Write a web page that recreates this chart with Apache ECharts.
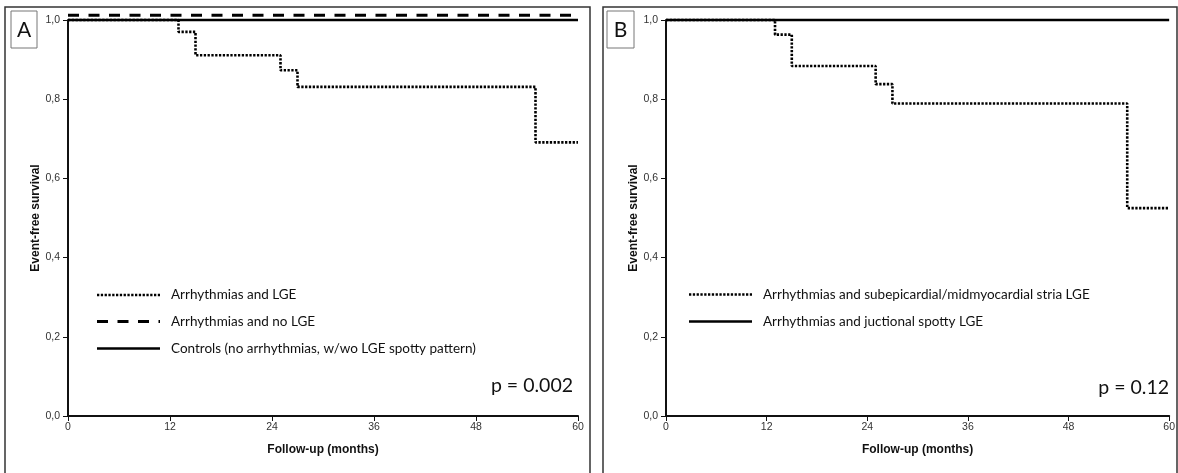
<!DOCTYPE html>
<html><head><meta charset="utf-8">
<script src="https://cdn.jsdelivr.net/npm/echarts@6/dist/echarts.min.js"></script>
<style>html,body{margin:0;padding:0;background:#fff}#c{width:1178px;height:473px}</style>
</head><body><div id="c"></div>
<script>
// ---- data ----
const xTicks = [0, 12, 24, 36, 48, 60];
const yTickLabels = ['0,0', '0,2', '0,4', '0,6', '0,8', '1,0'];

// Panel A
const namesA = ['Arrhythmias and LGE', 'Arrhythmias and no LGE', 'Controls (no arrhythmias, w/wo LGE spotty pattern)'];
const timesA_lge = [0, 13, 15, 25, 27, 55, 60];
const survA_lge = [1.0, 0.970, 0.911, 0.873, 0.831, 0.691, 0.691];
const timesA_noLge = [0, 60];
const survA_noLge = [1.012, 1.012];
const timesA_ctrl = [0, 60];
const survA_ctrl = [1.0, 1.0];
const pA = 'p = 0.002';

// Panel B
const namesB = ['Arrhythmias and subepicardial/midmyocardial stria LGE', 'Arrhythmias and juctional spotty LGE'];
const timesB_stria = [0, 13, 15, 25, 27, 55, 60];
const survB_stria = [1.0, 0.963, 0.884, 0.838, 0.789, 0.525, 0.525];
const timesB_spot = [0, 60];
const survB_spot = [1.0, 1.0];
const pB = 'p = 0.12';

const yName = 'Event-free survival';
const xName = 'Follow-up (months)';

// ---- helpers ----
const zip = (t, s) => t.map((v, i) => [v, s[i]]);
const DOT = { color: '#000', width: 2.6, type: [2.3, 1.5] };
const DASH = { color: '#000', width: 3, type: [11, 9.5] };
const SOLID = { color: '#000', width: 2.6, type: 'solid' };

function xAxis(gi) {
  return {
    gridIndex: gi, type: 'value', min: 0, max: 60, interval: 12,
    name: xName, nameLocation: 'middle', nameGap: 28,
    nameTextStyle: { fontFamily: 'Liberation Sans', fontWeight: 'bold', fontSize: 12, color: '#111' },
    axisLine: { lineStyle: { color: '#111', width: 2 } },
    axisTick: { length: 5, lineStyle: { color: '#111', width: 1 } },
    axisLabel: { fontFamily: 'Liberation Sans', fontSize: 10.5, color: '#333', margin: 6,
      formatter: v => (xTicks.indexOf(v) >= 0 ? String(v) : '') },
    splitLine: { show: false }
  };
}
function yAxis(gi) {
  return {
    gridIndex: gi, type: 'value', min: 0, max: 1, interval: 0.2,
    name: yName, nameLocation: 'middle', nameGap: 25, nameRotate: 90,
    nameTextStyle: { fontFamily: 'Liberation Sans', fontWeight: 'bold', fontSize: 12, color: '#111' },
    axisLine: { show: true, lineStyle: { color: '#111', width: 2 } },
    axisTick: { show: true, length: 5, lineStyle: { color: '#111', width: 1 } },
    axisLabel: { fontFamily: 'Liberation Sans', fontSize: 10.5, color: '#333', margin: 8,
      formatter: v => yTickLabels[Math.round(v / 0.2)] },
    splitLine: { show: false }
  };
}
function line(name, gi, data, style, z) {
  return { name, type: 'line', xAxisIndex: gi, yAxisIndex: gi, data, step: 'end',
    showSymbol: false, symbol: 'none', clip: false, lineStyle: style, z: z || 2, silent: true, animation: false };
}

function legendItems(x0, ys, names, styles) {
  const out = [];
  names.forEach((n, i) => {
    out.push({ type: 'line', shape: { x1: x0, y1: ys[i], x2: x0 + 63, y2: ys[i] },
      style: { stroke: '#000', lineWidth: styles[i].width, lineDash: styles[i].type === 'solid' ? null : styles[i].type } });
    out.push({ type: 'text', x: x0 + 74, y: ys[i], style: { text: n, fontFamily: 'Lato', fontSize: 13.5, fill: '#111', verticalAlign: 'middle' } });
  });
  return out;
}

const graphics = [
  { type: 'rect', shape: { x: 5, y: 7, width: 585, height: 470 }, style: { fill: 'none', stroke: '#333', lineWidth: 1.5 } },
  { type: 'rect', shape: { x: 603, y: 7, width: 574, height: 470 }, style: { fill: 'none', stroke: '#333', lineWidth: 1.5 } },
  { type: 'rect', shape: { x: 11, y: 11, width: 26, height: 37 }, style: { fill: '#fff', stroke: '#777', lineWidth: 1 } },
  { type: 'text', x: 24, y: 30, style: { text: 'A', fontFamily: 'Lato', fontSize: 21, fill: '#111', align: 'center', verticalAlign: 'middle' } },
  { type: 'rect', shape: { x: 607, y: 11, width: 27, height: 37 }, style: { fill: '#fff', stroke: '#777', lineWidth: 1 } },
  { type: 'text', x: 620.5, y: 30, style: { text: 'B', fontFamily: 'Lato', fontSize: 21, fill: '#111', align: 'center', verticalAlign: 'middle' } },
  { type: 'text', x: 573, y: 386, style: { text: pA, fontFamily: 'Lato', fontSize: 19.5, fill: '#111', align: 'right', verticalAlign: 'middle' } },
  { type: 'text', x: 1169, y: 388, style: { text: pB, fontFamily: 'Lato', fontSize: 19.5, fill: '#111', align: 'right', verticalAlign: 'middle' } }
].concat(legendItems(97, [295, 321.5, 348.5], namesA, [DOT, DASH, SOLID]))
 .concat(legendItems(689, [294.5, 321.5], namesB, [DOT, SOLID]));

const chart = echarts.init(document.getElementById('c'), null, { renderer: 'canvas' });
chart.setOption({
  animation: false,
  backgroundColor: '#fff',
  grid: [
    { left: 68, top: 20, width: 510, height: 396 },
    { left: 666, top: 20, width: 506, height: 396 }
  ],
  xAxis: [xAxis(0), xAxis(1)],
  yAxis: [yAxis(0), yAxis(1)],
  series: [
    line(namesA[0], 0, zip(timesA_lge, survA_lge), DOT, 2),
    line(namesA[1], 0, zip(timesA_noLge, survA_noLge), DASH, 3),
    line(namesA[2], 0, zip(timesA_ctrl, survA_ctrl), SOLID, 4),
    line(namesB[0], 1, zip(timesB_stria, survB_stria), DOT, 2),
    line(namesB[1], 1, zip(timesB_spot, survB_spot), SOLID, 4)
  ],
  graphic: graphics
});
</script></body></html>
